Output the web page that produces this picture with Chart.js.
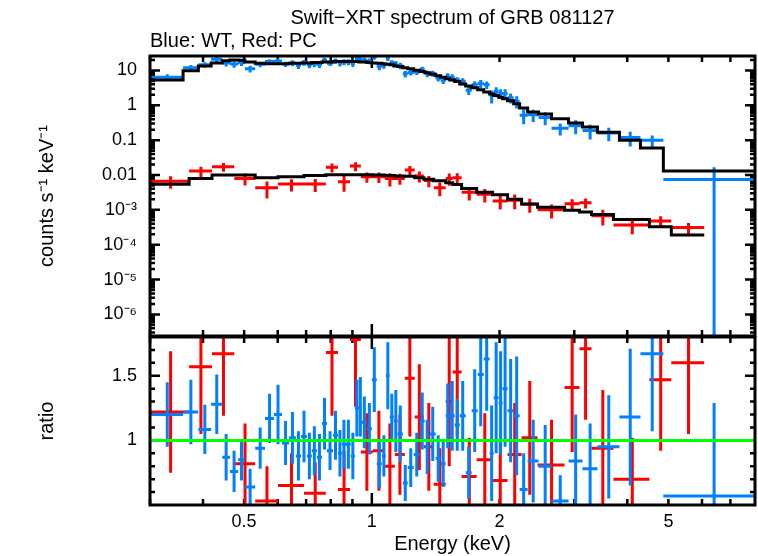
<!DOCTYPE html>
<html>
<head>
<meta charset="utf-8">
<script src="https://cdn.jsdelivr.net/npm/chart.js@4.4.0/dist/chart.umd.min.js"></script>
<style>
  body { margin: 0; background: #fff; }
  #wrap { position: relative; width: 758px; height: 556px; overflow: hidden;
          font-family: "Liberation Sans", Arial, sans-serif; color: #000; }
  canvas { position: absolute; left: 0; }
  #top { top: 0; }
  #bottom { top: 336px; }
  .txt { position: absolute; font-size: 20px; line-height: 24px; white-space: nowrap; }
  #title { left: 150px; width: 605px; top: 5px; text-align: center; }
  #sub { left: 150px; top: 28px; }
</style>
</head>
<body>
<div id="wrap">
  <canvas id="top" width="758" height="337"></canvas>
  <canvas id="bottom" width="758" height="220"></canvas>
  <div class="txt" id="title">Swift−XRT spectrum of GRB 081127</div>
  <div class="txt" id="sub">Blue: WT, Red: PC</div>
</div>
<script>
// WT mode (blue) - energy bin edges in keV
const blueEdges = [0.300,0.359,0.390,0.418,0.444,0.463,0.484,0.502,0.531,0.560,
  0.588,0.614,0.638,0.662,0.681,0.703,0.722,0.742,0.763,0.784,
  0.810,0.832,0.850,0.869,0.892,0.912,0.932,0.947,0.973,1.000,
  1.027,1.056,1.079,1.102,1.127,1.151,1.183,1.215,1.255,1.297,
  1.332,1.369,1.414,1.453,1.493,1.526,1.568,1.611,1.664,1.719,
  1.776,1.835,1.895,1.937,1.990,2.033,2.089,2.159,2.230,2.329,
  2.472,2.652,2.908,3.137,3.402,3.833,4.296,4.865,7.95];
const blueData = [6.4,12.0,14.6,21.1,16.5,15.2,16.6,11.2,15.0,18.1,
  18.6,15.2,16.3,14.1,17.0,14.5,15.6,14.8,19.8,16.1,
  18.7,16.2,17.5,17.5,15.8,22.5,22.1,20.0,18.5,24.3,
  13.1,13.6,22.5,17.1,15.5,13.7,8.0,8.8,9.1,10.8,
  8.2,8.2,6.1,5.2,6.9,6.3,5.4,4.9,2.7,3.9,
  4.2,3.9,1.9,2.5,2.2,2.2,1.66,1.31,0.52,0.54,
  0.45,0.22,0.26,0.19,0.16,0.12,0.10,0.0074];
const blueModel = [5.3,9.8,13.5,16.5,19,20,19.5,17.5,16,15.5,
  15.5,15.5,16,16,16.5,16.5,17,17,17.5,17.5,
  18,18,18,18,18,18,17.5,17.5,17,16.5,
  16,15.5,15,14.5,13.5,13,12,11.2,10.2,9.4,
  8.6,7.8,7.1,6.4,5.8,5.3,4.8,4.1,3.6,3.2,
  2.8,2.4,2.1,1.9,1.7,1.55,1.35,1.1,0.84,0.64,
  0.56,0.41,0.31,0.24,0.17,0.10,0.060,0.013];
const blueRatio = [1.2,1.22,1.085,1.28,0.87,0.76,0.85,0.64,0.94,1.17,
  1.20,0.98,1.02,0.88,1.03,0.88,0.92,0.87,1.13,0.92,
  1.04,0.90,0.97,0.97,0.88,1.25,1.26,1.14,1.09,1.47,
  0.82,0.88,1.50,1.18,1.15,1.05,0.67,0.79,0.89,1.15,
  0.95,1.05,0.86,0.82,1.19,1.19,1.12,1.19,0.75,1.23,
  1.51,1.63,0.90,1.33,1.29,1.40,1.23,1.19,0.62,0.84,
  0.80,0.53,0.84,0.78,0.95,1.18,1.67,0.57];
const blueRatioErr = [0.25,0.25,0.19,0.23,0.18,0.16,0.16,0.14,0.16,0.19,
  0.23,0.17,0.20,0.19,0.20,0.18,0.19,0.18,0.20,0.15,
  0.19,0.18,0.19,0.19,0.18,0.22,0.23,0.20,0.20,0.25,
  0.19,0.16,0.26,0.18,0.24,0.22,0.14,0.15,0.17,0.22,
  0.21,0.21,0.18,0.18,0.25,0.27,0.20,0.27,0.20,0.32,
  0.40,0.40,0.37,0.43,0.40,0.45,0.40,0.46,0.28,0.32,
  0.32,0.20,0.36,0.35,0.40,0.53,0.60,0.72];

// PC mode (red)
const redEdges = [0.300,0.371,0.420,0.474,0.531,0.601,0.692,0.779,0.832,0.888,
  0.942,1.005,1.073,1.133,1.196,1.262,1.326,1.399,1.493,1.551,
  1.628,1.766,1.926,2.089,2.254,2.458,2.846,3.086,3.294,3.711,
  4.510,5.080,6.074];
const redData = [0.0066,0.0130,0.0173,0.0080,0.0043,0.0055,0.0055,0.0166,0.0064,0.0181,
  0.0089,0.0089,0.0080,0.0080,0.0139,0.0094,0.0069,0.0043,0.0080,0.0084,
  0.0032,0.0028,0.0018,0.0019,0.00145,0.00100,0.00150,0.00160,0.00068,0.00037,
  0.00048,0.00031];
const redModel = [0.0054,0.0080,0.0100,0.0100,0.0084,0.0089,0.0096,0.0102,0.0102,0.0102,
  0.0102,0.0100,0.0096,0.0094,0.0092,0.0084,0.0076,0.0068,0.0060,0.0053,
  0.0041,0.0032,0.0027,0.0020,0.00147,0.00118,0.00097,0.00087,0.00074,0.00053,
  0.00033,0.00019];
const redRatio = [1.22,1.57,1.67,0.82,0.53,0.65,0.59,1.68,0.62,1.78,
  0.91,0.92,0.80,0.89,1.48,1.18,0.95,0.66,1.30,1.53,
  0.72,0.85,0.69,0.89,1.02,0.81,1.41,1.71,0.94,0.70,
  1.47,1.60];
const redRatioErr = [0.47,0.52,0.48,0.31,0.27,0.25,0.24,0.49,0.30,0.52,
  0.30,0.31,0.33,0.31,0.45,0.41,0.34,0.28,0.50,0.50,
  0.30,0.36,0.30,0.40,0.44,0.35,0.50,0.55,0.45,0.32,
  0.55,0.55];

// axes
const yTickValues = [10, 1, 0.1, 0.01, 1e-3, 1e-4, 1e-5, 1e-6];
const yTickLabels = ['10', '1', '0.1', '0.01', '10⁻³', '10⁻⁴', '10⁻⁵', '10⁻⁶'];
const xTickValues = [0.5, 1, 2, 5];
const xTickLabels = ['0.5', '1', '2', '5'];
const ratioTickValues = [1, 1.5];
const ratioTickLabels = ['1', '1.5'];
// unity line of the ratio panel, drawn past both edges and clipped
const unityX = [0.2, 10];
const unityY = [1, 1];

const BLUE = 'rgb(0,128,255)';
const RED = 'rgb(255,0,0)';
const GREEN = 'rgb(0,255,0)';
const FONT = '"Liberation Sans", Arial, sans-serif';

// cross = horizontal bin width + vertical error bar, gaps between them
function crosses(edges, vals, errs, floor) {
  const pts = [];
  for (let i = 0; i < vals.length; i++) {
    const lo = edges[i], hi = edges[i + 1], mid = (lo + hi) / 2;
    pts.push({x: lo, y: vals[i]}, {x: hi, y: vals[i]}, {x: mid, y: null});
    pts.push({x: mid, y: Math.max(vals[i] - errs[i], floor)}, {x: mid, y: vals[i] + errs[i]}, {x: mid, y: null});
  }
  return pts;
}
function steps(edges, vals) {
  const pts = [];
  for (let i = 0; i < vals.length; i++) {
    pts.push({x: edges[i], y: vals[i]}, {x: edges[i + 1], y: vals[i]});
  }
  return pts;
}
// error in the spectrum panel from the fractional error of the ratio
function specErr(vals, ratio, rerr) {
  return vals.map((v, i) => v * rerr[i] / ratio[i]);
}

function line(data, color) {
  return {data: data, borderColor: color, borderWidth: 3, showLine: true,
          pointRadius: 0, spanGaps: false, tension: 0, fill: false};
}

function logMinor(lo, hi) {
  const out = [];
  for (let k = -8; k <= 2; k++) {
    for (let m = 2; m <= 9; m++) {
      const v = m * Math.pow(10, k);
      if (v > lo && v < hi) out.push(v);
    }
  }
  return out;
}
function logMajor(lo, hi) {
  const out = [];
  for (let k = -8; k <= 2; k++) {
    const v = Math.pow(10, k);
    if (v > lo && v < hi) out.push(v);
  }
  return out;
}

// keep the plot box where it is: no extra room for edge labels
function fixWidth(s) { s.width = 150; s.paddingTop = 0; s.paddingBottom = 0; }
function fixHeight(s) { s.height = 51; s.paddingLeft = 0; s.paddingRight = 0; }

// inward tick marks under the data, frame on top
const frame = {
  id: 'frame',
  beforeDatasetsDraw(chart, args, o) {
    const {ctx, chartArea: a, scales} = chart;
    ctx.save();
    ctx.strokeStyle = '#000';
    ctx.lineWidth = 2.5;
    ctx.beginPath();
    const xt = o.xMajor.map(v => [v, 12]).concat(o.xMinor.map(v => [v, 6]));
    xt.forEach(([v, len]) => {
      const px = scales.x.getPixelForValue(v);
      ctx.moveTo(px, a.top); ctx.lineTo(px, a.top + len);
      ctx.moveTo(px, a.bottom); ctx.lineTo(px, a.bottom - len);
    });
    const yt = o.yMajor.map(v => [v, 10]).concat(o.yMinor.map(v => [v, 5]));
    yt.forEach(([v, len]) => {
      const py = scales.y.getPixelForValue(v);
      ctx.moveTo(a.left, py); ctx.lineTo(a.left + len, py);
      ctx.moveTo(a.right, py); ctx.lineTo(a.right - len, py);
    });
    ctx.stroke();
    ctx.restore();
  },
  afterDatasetsDraw(chart) {
    const {ctx, chartArea: a} = chart;
    ctx.save();
    ctx.strokeStyle = '#000';
    ctx.lineWidth = 3;
    ctx.strokeRect(a.left, a.top, a.right - a.left, a.bottom - a.top);
    ctx.restore();
  }
};

const X_MIN = 0.3, X_MAX = 8;
const Y_MIN = 2.4e-7, Y_MAX = 26;
const R_MIN = 0.5, R_MAX = 1.8;

const xMajor = logMajor(X_MIN, X_MAX);
const xMinor = logMinor(X_MIN, X_MAX);

new Chart(document.getElementById('top'), {
  type: 'scatter',
  data: {
    datasets: [
      line(steps(blueEdges, blueModel), '#000'),
      line(steps(redEdges, redModel), '#000'),
      line(crosses(blueEdges, blueData, specErr(blueData, blueRatio, blueRatioErr), 1e-9), BLUE),
      line(crosses(redEdges, redData, specErr(redData, redRatio, redRatioErr), 1e-9), RED)
    ]
  },
  options: {
    responsive: false,
    animation: false,
    layout: {padding: {top: 56, right: 3, bottom: 1, left: 0}},
    plugins: {
      legend: {display: false},
      tooltip: {enabled: false},
      frame: {xMajor: xMajor, xMinor: xMinor,
              yMajor: logMajor(Y_MIN, Y_MAX), yMinor: logMinor(Y_MIN, Y_MAX)}
    },
    scales: {
      x: {type: 'logarithmic', min: X_MIN, max: X_MAX, display: false},
      y: {
        type: 'logarithmic', min: Y_MIN, max: Y_MAX,
        afterFit: fixWidth,
        afterBuildTicks: s => { s.ticks = yTickValues.map(v => ({value: v})); },
        grid: {display: false, drawTicks: false},
        border: {display: false},
        ticks: {callback: (v, i) => yTickLabels[i], autoSkip: false, padding: 13,
                color: '#000', font: {family: FONT, size: 18}},
        title: {display: true, text: 'counts s⁻¹ keV⁻¹', color: '#000',
                font: {family: FONT, size: 20}, padding: {top: 35, bottom: 0}}
      }
    }
  },
  plugins: [frame]
});

new Chart(document.getElementById('bottom'), {
  type: 'scatter',
  data: {
    datasets: [
      line(unityX.map((x, i) => ({x: x, y: unityY[i]})), GREEN),
      line(crosses(blueEdges, blueRatio, blueRatioErr, -1), BLUE),
      line(crosses(redEdges, redRatio, redRatioErr, -1), RED)
    ]
  },
  options: {
    responsive: false,
    animation: false,
    layout: {padding: {top: 1, right: 3, bottom: 0, left: 0}},
    plugins: {
      legend: {display: false},
      tooltip: {enabled: false},
      frame: {xMajor: xMajor, xMinor: xMinor,
              yMajor: ratioTickValues, yMinor: [0.6,0.7,0.8,0.9,1.1,1.2,1.3,1.4,1.6,1.7]}
    },
    scales: {
      x: {
        type: 'logarithmic', min: X_MIN, max: X_MAX,
        afterFit: fixHeight,
        afterBuildTicks: s => { s.ticks = xTickValues.map(v => ({value: v})); },
        grid: {display: false, drawTicks: false},
        border: {display: false},
        ticks: {callback: (v, i) => xTickLabels[i], autoSkip: false, maxRotation: 0,
                padding: 6, color: '#000', font: {family: FONT, size: 18}},
        title: {display: true, text: 'Energy (keV)', color: '#000',
                font: {family: FONT, size: 20}, padding: {top: 0, bottom: 0}}
      },
      y: {
        min: R_MIN, max: R_MAX,
        afterFit: fixWidth,
        afterBuildTicks: s => { s.ticks = ratioTickValues.map(v => ({value: v})); },
        grid: {display: false, drawTicks: false},
        border: {display: false},
        ticks: {callback: (v, i) => ratioTickLabels[i], autoSkip: false, padding: 13,
                color: '#000', font: {family: FONT, size: 18}},
        title: {display: true, text: 'ratio', color: '#000',
                font: {family: FONT, size: 20}, padding: {top: 35, bottom: 0}}
      }
    }
  },
  plugins: [frame]
});
</script>
</body>
</html>
